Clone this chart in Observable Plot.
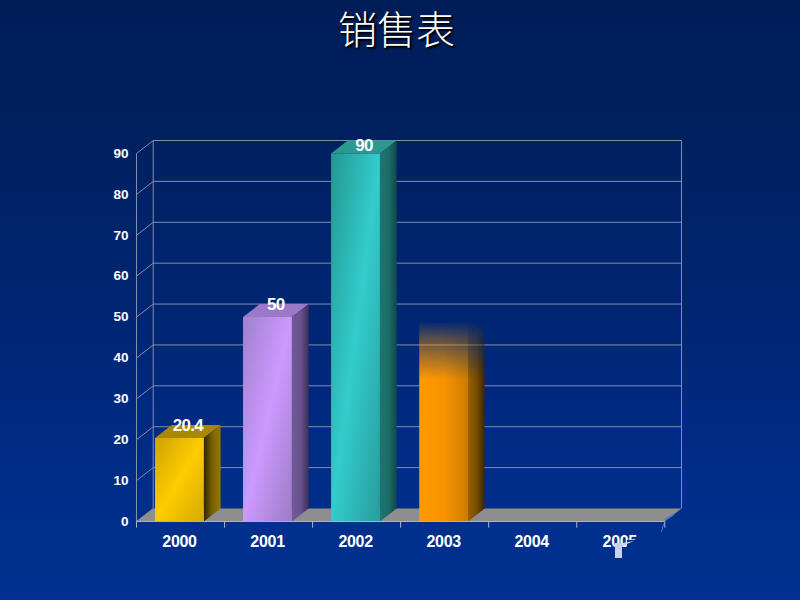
<!DOCTYPE html>
<html lang="zh">
<head>
<meta charset="utf-8">
<script src="https://cdn.jsdelivr.net/npm/d3@7"></script>
<script src="https://cdn.jsdelivr.net/npm/@observablehq/plot@0.6"></script>
<style>
html,body{margin:0;padding:0;width:800px;height:600px;overflow:hidden;}
body{background:linear-gradient(#001d58 0%,#00205f 22%,#002778 58%,#002f8c 87%,#003090 100%);position:relative;}
#title{height:60px;padding-right:7px;text-align:center;color:#fff;font:300 39px/54px "Noto Sans CJK SC",sans-serif;text-shadow:2px 2px 2px #000,1px 1px 1px #000;}
svg{display:block;background:transparent!important;}
.vlabel text{letter-spacing:-.7px;}
.xlabel text{letter-spacing:-.3px;}
.wm{position:absolute;}
#patch{left:627px;top:540px;width:14px;height:9px;background:#002f8b;}
#stem{left:615px;top:543px;width:7px;height:15px;background:#c6d2ec;filter:blur(.4px);}
#wedge{left:622px;top:541px;width:12px;height:5px;background:#c6d2ec;clip-path:polygon(0 40%,100% 0,0 100%);}
#arc1{left:664px;top:516px;width:11px;height:2px;background:#3f7bd6;transform:rotate(-30deg);border-radius:2px;}
#arc2{left:662px;top:524px;width:1px;height:8px;background:#3f7bd6;transform:rotate(15deg);}
</style>
</head>
<body>
<div id="title">销售表</div>
<div id="chart"></div>
<div class="wm" id="patch"></div>
<div class="wm" id="stem"></div>
<div class="wm" id="wedge"></div>
<div class="wm" id="arc1"></div>
<div class="wm" id="arc2"></div>
<script>
const years = ["2000","2001","2002","2003","2004","2005"];
const values = [20.4, 50, 90, 49, null, null];
const labels = ["20.4","50","90",null,null,null];
const gridValues = [10,20,30,40,50,60,70,80,90];
const yTicks = [0,10,20,30,40,50,60,70,80,90];
const barStart = 0.21, barEnd = 0.765;
const depthX = 0.19, depthY = 3.18, tickLen = 1.5, labelCeiling = 92;
const gridColor = "#848da9", axisColor = "#aab2ca";
const palettes = [
  {front:["#cca300","#ffcc00","#d4aa00"], side:["#2e2400","#7a6200","#957800"], top:"#a88800"},
  {front:["#a080d0","#cc99ff","#9c7cc4"], side:["#6f5a96","#6a5290","#3c3058"], top:"#9a7ac8"},
  {front:["#229890","#33cccc","#289c9c"], side:["#1e7570","#1c6c68","#0e4a4a"], top:"#2a9a90"},
  {front:["#ff9900","#f89400","#cc7c00"], side:["#996000","#7a4c00","#3c2600"], top:"#c67800"}
];
const gradient = (defs, id, stops, tilt) => {
  const g = defs.append("linearGradient").attr("id", id)
    .attr("x1", 0).attr("y1", 0).attr("x2", 1).attr("y2", tilt);
  stops.forEach((c, i) => g.append("stop").attr("offset", i / (stops.length - 1)).attr("stop-color", c));
};
const defsMark = () => {
  const defs = d3.create("svg:defs");
  palettes.forEach((p, i) => {
    gradient(defs, `front${i}`, p.front, i === 3 ? 0 : 1);
    gradient(defs, `side${i}`, p.side, 0);
  });
  const fade = defs.append("linearGradient").attr("id", "fadeStops").attr("x1", 0).attr("y1", 0).attr("x2", 0).attr("y2", 1);
  [[0,"#000"],[0.08,"#555"],[0.29,"#fff"],[1,"#fff"]].forEach(([o,c]) => fade.append("stop").attr("offset", o).attr("stop-color", c));
  defs.append("mask").attr("id", "fade").attr("maskContentUnits", "objectBoundingBox")
    .attr("x", 0).attr("y", 0).attr("width", 1).attr("height", 1)
    .append("rect").attr("width", 1).attr("height", 1).attr("fill", "url(#fadeStops)");
  return defs.node();
};
const faded = (index, scales, channels, dims, context, next) => {
  const g = next(index, scales, channels, dims, context);
  g.setAttribute("mask", "url(#fade)");
  return g;
};
const polygon = (pts, fill, extra = {}) =>
  Plot.line(pts.map(([x, y]) => ({x, y})), {x: "x", y: "y", fill, stroke: "none", curve: "linear", ...extra});

const floor = polygon([[0,0],[6,0],[6+depthX,depthY],[depthX,depthY]], "#8e8e8e");
const wallLines = [
  ...gridValues.map(v => ({x1: depthX, y1: v + depthY, x2: 6 + depthX, y2: v + depthY})),
  ...yTicks.map(v => ({x1: 0, y1: v, x2: depthX, y2: v + depthY})),
  {x1: 0, y1: 0, x2: 0, y2: 90},
  {x1: depthX, y1: depthY, x2: depthX, y2: 90 + depthY},
  {x1: 6 + depthX, y1: depthY, x2: 6 + depthX, y2: 90 + depthY}
];
const xTicks = d3.range(7).map(i => ({x1: i, x2: i, y1: 0, y2: -tickLen}));
const bars = values.flatMap((v, i) => {
  if (v == null) return [];
  const x1 = i + barStart, x2 = i + barEnd;
  if (labels[i] == null) {
    const extra = {render: faded};
    return [
      polygon([[x2,0],[x2+depthX,depthY],[x2+depthX,v],[x2,v]], `url(#side${i})`, extra),
      polygon([[x1,0],[x2,0],[x2,v],[x1,v]], `url(#front${i})`, extra)
    ];
  }
  return [
    polygon([[x1,v],[x2,v],[x2+depthX,v+depthY],[x1+depthX,v+depthY]], palettes[i].top),
    polygon([[x2,0],[x2+depthX,depthY],[x2+depthX,v+depthY],[x2,v]], `url(#side${i})`),
    polygon([[x1,0],[x2,0],[x2,v],[x1,v]], `url(#front${i})`)
  ];
});
const valueLabels = values.map((v, i) => ({v, i, t: labels[i]})).filter(d => d.t != null);

const plot = Plot.plot({
  width: 800, height: 540,
  marginLeft: 136, marginRight: 119, marginTop: 80, marginBottom: 79,
  style: {background: "transparent", overflow: "visible"},
  x: {domain: [0, 6 + depthX], axis: null},
  y: {domain: [0, 90 + depthY], axis: null},
  marks: [
    defsMark,
    Plot.link(wallLines, {x1: "x1", y1: "y1", x2: "x2", y2: "y2", stroke: gridColor, strokeWidth: 1}),
    floor,
    ...bars,
    Plot.link([{x1: 0, x2: 6, y1: 0, y2: 0}], {x1: "x1", y1: "y1", x2: "x2", y2: "y2", stroke: axisColor, strokeWidth: 1}),
    Plot.link(xTicks, {x1: "x1", y1: "y1", x2: "x2", y2: "y2", stroke: axisColor, strokeWidth: 1}),
    Plot.text(yTicks, {x: () => 0, y: d => d, text: d => String(d), textAnchor: "end", dx: -8, dy: 0,
      fill: "#fff", fontFamily: "Liberation Sans", fontWeight: "bold", fontSize: 13.5}),
    Plot.text(years, {x: (d, i) => i + 0.5, y: () => -tickLen, text: d => d, dx: -1, dy: 14, className: "xlabel",
      fill: "#fff", fontFamily: "Liberation Sans", fontWeight: "bold", fontSize: 16}),
    Plot.text(valueLabels, {x: d => d.i + (barStart + barEnd + depthX) / 2, y: d => Math.min(d.v + depthY, labelCeiling), text: "t", className: "vlabel",
      fill: "#fff", fontFamily: "Liberation Sans", fontWeight: "bold", fontSize: 17})
  ]
});
document.getElementById("chart").appendChild(plot);
</script>
</body>
</html>
